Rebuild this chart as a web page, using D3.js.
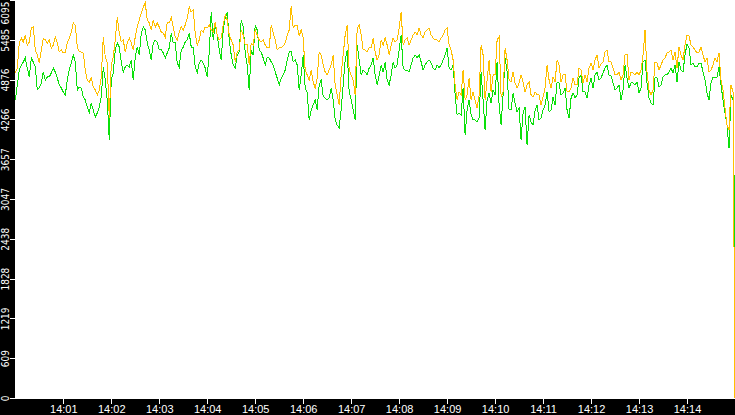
<!DOCTYPE html>
<html>
<head>
<meta charset="utf-8">
<script src="https://cdn.jsdelivr.net/npm/d3@7"></script>
<style>
    body { margin: 0; background: #000; }
    .line { fill: none; stroke-width: 1; shape-rendering: crispEdges; }
    .axis text { fill: #fff; }
    .axis line { stroke: #fff; shape-rendering: crispEdges; }
    .axis path { display: none; }
</style>
</head>
<body>
<svg id="chart" width="735" height="415"></svg>
<script>
// samples every 2.5 s from 14:00:00 to 14:15:00
const startLabel = "14:00";
const endLabel = "14:15";

const greenValues = [
    4564, 4794, 5023, 5100, 5146, 5207, 5054, 4916, 5207, 5146,
    5069, 4717, 4748, 4824, 4993, 4870, 4916, 4916, 4977, 5054,
    4993, 4901, 4794, 4748, 4687, 4641, 4870, 5023, 5130, 5253,
    5146, 4717, 4763, 4748, 4610, 4564, 4457, 4365, 4518, 4411,
    4304, 4365, 4457, 4610, 5069, 4870, 4564, 3952,
    4870, 4977, 5330, 5437, 5375, 5146, 4993, 5069, 5100, 5069,
    5176, 4870, 5222, 5375, 5253, 5590, 5682, 5636, 5437, 5330,
    5176, 5437, 5483, 5452, 5330, 5330, 5284, 5207, 5284, 5360,
    5590, 5437, 5437, 5130, 5069, 5330, 5375, 5452, 5483, 5590,
    5375, 5375, 5069, 4977, 5130, 5176, 5130, 5054, 4916, 5284,
    5911, 5483, 5712, 5559, 5330, 5176, 5636, 5819, 5911, 5483,
    5253, 5100, 5054, 5253, 5299, 5789, 5682, 5284, 5100, 4717,
    5330, 5253, 5712, 5636, 5330, 5299, 5207, 5100, 5222, 5207,
    5146, 5100, 4993, 4901, 4794, 4901, 4947, 5023, 5176, 5299,
    5299, 5146, 5176, 5100, 4717, 4947, 5253, 4748, 4687, 4258,
    4411, 4487, 4564, 4411, 4794, 4870, 4625, 4595, 4564, 4595,
    4748, 4564, 4258, 4181, 4135, 4411, 4794, 5176, 5330, 4687,
    4564, 4411, 4258, 5406, 5176, 4947, 5023, 4993, 4947, 5054,
    5100, 5207, 4947, 4794, 4947, 5100, 4993, 5146, 4870, 4794,
    4947, 5146, 5054, 5100, 5330, 5559, 5054, 5023, 5023, 4993,
    5100, 5207, 5253, 5207, 5253, 5146, 5023, 5100, 5146, 5176,
    5130, 5054, 5023, 5100, 5054, 5100, 5176, 5253, 5360, 5054,
    5023, 5100, 4641, 4334, 4365, 4334, 4748, 4028, 4411, 4564,
    4334, 4258, 4258, 4227, 4288, 4993, 4564, 4105, 4564, 4671,
    4518, 4717, 4641, 5146, 4487, 4181, 4641, 5207, 4993, 4411,
    4411, 4671, 4518, 4380, 4442, 3952, 4365, 4457, 3875, 4334,
    4227, 4181, 4411, 4487, 4258, 4288, 4411, 4487, 4687, 4380,
    4411, 4610, 4487, 4840, 4824, 4641, 4671, 4748, 4411, 4288,
    4595, 4671, 4595, 4641, 4901, 4947, 4687, 4687, 4595, 4794,
    4901, 4748, 4947, 4993, 4870, 4901, 4977, 5054, 5100, 4947,
    4931, 4824, 4717, 4748, 4794, 4564, 4717, 5100, 4901, 4748,
    4824, 4824, 4794, 4840, 4671, 4748, 5146, 5176, 4824, 4595,
    4518, 4487, 4901, 4901, 4763, 4794, 4916, 4947, 4947, 4993,
    5054, 4977, 5100, 4840, 5146, 5023, 4993, 5253, 5421, 5360,
    5100, 5130, 5069, 5069, 5130, 5130, 4993, 4870, 4671, 4564,
    4824, 4916, 4901, 4916, 5069, 4794, 4564, 4365, 4181, 3829,
    4641, 4564, 2312
];

const amberValues = [
    4977, 5054, 5437, 5513, 5452, 5559, 5406, 5452, 5666, 5682,
    5330, 5253, 5130, 5330, 5513, 5483, 5437, 5483, 5360, 5406,
    5529, 5437, 5299, 5330, 5284, 5284, 5437, 5513, 5605, 5743,
    5712, 5375, 5299, 5299, 5284, 5023, 4870, 4840, 4901, 4763,
    4717, 4641, 4717, 4916, 5529, 5222, 5130, 4288,
    5100, 5222, 5483, 5835, 5590, 5452, 5483, 5299, 5437, 5513,
    5437, 5330, 5529, 5682, 5789, 5896, 5988, 6049, 5789, 5743,
    5636, 5789, 5682, 5743, 5682, 5605, 5590, 5529, 5743, 5743,
    5835, 5682, 5529, 5483, 5605, 5682, 5636, 5712, 5819, 5988,
    5911, 5942, 5590, 5406, 5483, 5636, 5605, 5682, 5666, 5712,
    5636, 5605, 5758, 5559, 5483, 5513, 5712, 5865, 5789, 5559,
    5483, 5406, 5146, 5299, 5330, 5636, 5559, 5406, 5406, 5100,
    5437, 5406, 5636, 5559, 5483, 5452, 5483, 5406, 5360, 5360,
    5712, 5590, 5483, 5330, 5360, 5360, 5391, 5437, 5559, 5636,
    6003, 5666, 5712, 5712, 5544, 5636, 5513, 5023, 4947, 4870,
    5023, 4840, 4748, 4901, 5299, 5253, 5100, 4993, 4947, 5023,
    5100, 5253, 4794, 4641, 4487, 4947, 5253, 5559, 5712, 5023,
    4947, 4870, 4641, 5666, 5712, 5559, 5330, 5330, 5299, 5360,
    5360, 5513, 5299, 5176, 5253, 5483, 5406, 5513, 5406, 5253,
    5406, 5513, 5452, 5483, 5666, 5911, 5406, 5483, 5513, 5406,
    5483, 5559, 5605, 5559, 5666, 5559, 5513, 5605, 5636, 5666,
    5559, 5513, 5483, 5483, 5452, 5513, 5559, 5636, 5666, 5406,
    5330, 5176, 4794, 4564, 4687, 4641, 5023, 4564, 4641, 4901,
    4564, 4687, 4564, 4442, 4641, 5406, 5253, 4564, 4870, 5176,
    4687, 4947, 4947, 5483, 5529, 4610, 4687, 5360, 5176, 4870,
    4840, 4993, 4824, 4748, 4824, 4947, 4840, 4687, 4794, 4840,
    4641, 4610, 4687, 4641, 4641, 4487, 4610, 4748, 5100, 4870,
    4748, 4916, 4840, 5176, 5100, 4840, 4947, 4947, 4687, 4687,
    4748, 4901, 4794, 4794, 5054, 5023, 4824, 4947, 4840, 5054,
    5130, 5023, 5176, 5253, 5054, 5115, 5146, 5299, 5330, 5146,
    5146, 5054, 4947, 4947, 4993, 4870, 4947, 5253, 5253, 4870,
    4993, 4977, 4947, 4993, 4947, 5023, 5253, 5636, 4993, 4717,
    4641, 4717, 5146, 5130, 5023, 5100, 5176, 5207, 5284, 5299,
    5330, 5176, 5299, 5054, 5375, 5253, 5176, 5406, 5559, 5544,
    5406, 5375, 5330, 5284, 5299, 5375, 5253, 5146, 5207, 4993,
    5023, 5100, 5207, 5146, 5284, 4870, 4717, 4442, 4181, 4105,
    4794, 4687, 0
];

const yTickValues = [0, 609, 1219, 1828, 2438, 3047, 3657, 4266, 4876, 5485, 6095];
const xTickLabels = ["14:01", "14:02", "14:03", "14:04", "14:05", "14:06", "14:07",
    "14:08", "14:09", "14:10", "14:11", "14:12", "14:13", "14:14"];

const parseTime = d3.timeParse("%H:%M");

const svg = d3.select("#chart"),
    margin = {top: 0, right: 0, bottom: 16, left: 15},
    width = +svg.attr("width"),
    height = +svg.attr("height");

const t0 = parseTime(startLabel),
    t1 = parseTime(endLabel);

const x = d3.scaleTime()
    .domain([t0, t1])
    .range([margin.left + 0.3, width]);

const y = d3.scaleLinear()
    .domain([0, 6095])
    .range([height - margin.bottom - 1, margin.top]);

// plot background
svg.append("rect")
    .attr("x", margin.left)
    .attr("y", 0)
    .attr("width", width - margin.left)
    .attr("height", height - margin.bottom)
    .attr("fill", "#fff");

const timeAt = (i, n) => new Date(+t0 + i * (t1 - t0) / (n - 1));

const line = d3.line()
    .x((d, i, arr) => x(timeAt(i, arr.length)))
    .y(d => y(d));

svg.append("path")
    .datum(greenValues)
    .attr("class", "line")
    .style("stroke", "#0be00b")
    .attr("d", line);

svg.append("path")
    .datum(amberValues)
    .attr("class", "line")
    .style("stroke", "#ffbf00")
    .attr("d", line);

// y axis, labels turned up the left strip
const yAxis = svg.append("g")
    .attr("class", "axis y-axis")
    .attr("transform", "translate(" + margin.left + ",0)")
    .call(d3.axisLeft(y).tickValues(yTickValues).tickSize(5).tickFormat(d3.format("d")));

yAxis.selectAll("text")
    .attr("font-family", "'Liberation Sans Narrow', 'DejaVu Sans Condensed', sans-serif")
    .attr("font-size", 10)
    .attr("text-anchor", "middle")
    .attr("dy", null)
    .attr("transform", "rotate(-90)")
    .attr("y", -6)
    .attr("x", function (d) {
        const half = this.getComputedTextLength() / 2;
        const pos = y(d);
        return pos - half < 1 ? -(half + 1 - pos) : 0;
    });

// x axis
svg.append("g")
    .attr("class", "axis x-axis")
    .attr("transform", "translate(0," + (height - margin.bottom) + ")")
    .call(d3.axisBottom(x)
        .tickValues(xTickLabels.map(parseTime))
        .tickSize(5)
        .tickFormat(d3.timeFormat("%H:%M")))
    .selectAll("text")
    .attr("font-family", "'Liberation Sans', Arial, sans-serif")
    .attr("font-size", 11)
    .attr("y", 6);
</script>
</body>
</html>
